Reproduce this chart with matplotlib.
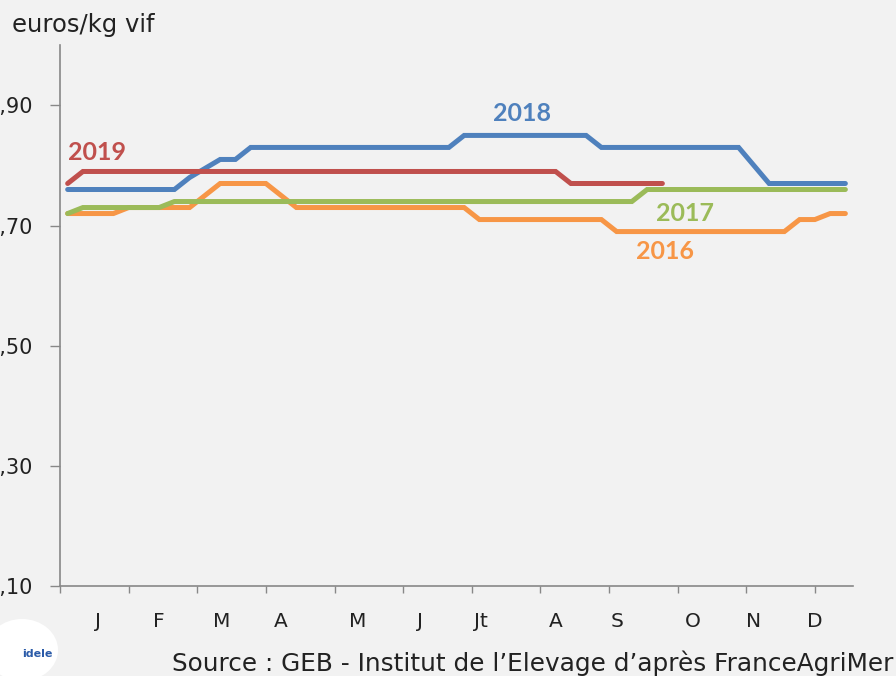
import numpy as np
import matplotlib.pyplot as plt
from matplotlib.patches import Ellipse

plt.rcParams['font.family'] = ['DejaVu Sans']

# Weekly prices (euros/kg vif), weeks 1..52
weeks = np.arange(1, 53)

p2016 = ([0.72] * 4 + [0.73] * 5 + [0.75] + [0.77] * 4 + [0.75] + [0.73] * 12
         + [0.71] * 9 + [0.69] * 12 + [0.71] * 2 + [0.72] * 2)
p2017 = [0.72] + [0.73] * 6 + [0.74] * 31 + [0.76] * 14
p2018 = ([0.76] * 8 + [0.78, 0.795] + [0.81] * 2 + [0.83] * 14 + [0.85] * 9
         + [0.83] * 10 + [0.80] + [0.77] * 6)
p2019 = [0.77] + [0.79] * 32 + [0.77] * 7 + [np.nan] * 12

years = ["2016", "2017", "2018", "2019"]
series = [p2016, p2017, p2018, p2019]
colors = ["#f79646", "#9bbb59", "#4f81bd", "#c0504d"]

month_labels = ["J", "F", "M", "A", "M", "J", "Jt", "A", "S", "O", "N", "D"]
month_pos = [3, 7, 11.1, 15, 20, 24.1, 28.1, 33, 37, 42, 46, 50]
yticks = [0.10, 0.30, 0.50, 0.70, 0.90]

bg = "#f2f2f2"
fig = plt.figure(figsize=(8.96, 6.76), dpi=100, facecolor=bg)
ax = fig.add_axes([0.067, 0.133, 0.885, 0.800], facecolor=bg)

for yr, vals, c in zip(years, series, colors):
    ax.plot(weeks, vals, color=c, lw=3.6, solid_capstyle='round',
            solid_joinstyle='miter')

# year labels (left, baseline)
lab_pos = {"2018": (28.9, 0.874), "2019": (1.05, 0.809), "2017": (39.55, 0.708),
           "2016": (38.3, 0.644)}
for yr, c in zip(years, colors):
    x, y = lab_pos[yr]
    ax.text(x, y, yr, color=c, fontsize=18, fontweight='bold', va='baseline',
            family=['Lato', 'DejaVu Sans'])

ax.set_xlim(0.5, 52.5)
ax.set_ylim(0.10, 1.00)
ax.set_yticks(yticks)
ax.set_yticklabels([("%.2f" % v).replace(".", ",") for v in yticks])
ax.xaxis.remove_overlapping_locs = False
ax.set_xticks(np.arange(0.5, 52, 4.5))
ax.set_xticklabels([])
ax.set_xticks(month_pos, minor=True)
ax.set_xticklabels(month_labels, minor=True)
ax.tick_params(axis='x', which='minor', length=0, pad=19, labelsize=14.5,
               colors='#222222')
ax.tick_params(axis='x', which='major', length=5, width=1, color='#888888',
               direction='out')
ax.tick_params(axis='y', length=7.2, width=1, color='#888888', pad=12,
               labelsize=15, labelcolor='#222222')

for s in ['top', 'right']:
    ax.spines[s].set_visible(False)
for s in ['left', 'bottom']:
    ax.spines[s].set_color('#888888')
    ax.spines[s].set_linewidth(1.2)

fig.text(12 / 896, 1 - 32 / 676, "euros/kg vif", fontsize=17.5,
         color='#222222', va='baseline', ha='left')
fig.text(893 / 896, 1 - 671 / 676, "Source : GEB - Institut de l\u2019Elevage d\u2019apr\u00e8s FranceAgriMer",
         fontsize=17.8, color='#222222', va='baseline', ha='right')

# logo placeholder
fig.patches.append(Ellipse((22 / 896, 1 - 650 / 676), 72 / 896, 62 / 676,
                           transform=fig.transFigure, facecolor='white',
                           edgecolor='none'))
fig.text(22 / 896, 1 - 654 / 676, "idele", fontsize=8, fontweight='bold',
         color='#2a5aa8', va='center', ha='left')

fig.savefig("out.png", dpi=100, facecolor=bg)
